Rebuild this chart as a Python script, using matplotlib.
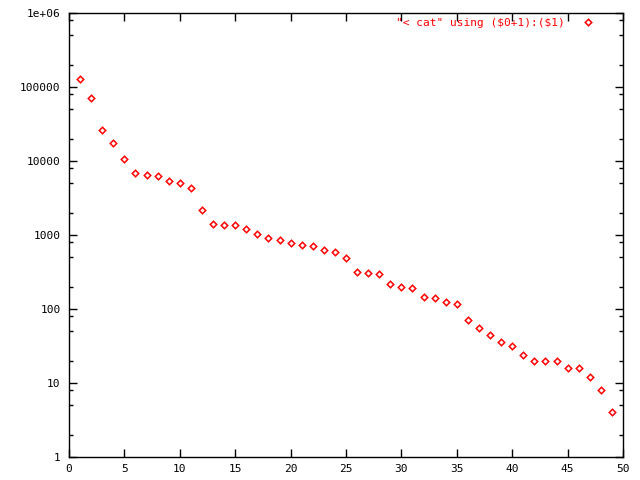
#!/usr/bin/env python3
"""Rank plot of counts, gnuplot style, log y axis"""
import matplotlib
matplotlib.use("Agg")
import matplotlib.pyplot as plt
from matplotlib.ticker import FixedLocator, FixedFormatter

# values (x = row number, y = count)
counts = [127000, 70400, 26000, 17300, 10500, 6820, 6410, 6210, 5320, 5000,
          4280, 2160, 1400, 1350, 1350, 1200, 1020, 900, 850, 772,
          726, 703, 621, 583, 484, 313, 303, 294, 216, 197,
          190, 144, 140, 123, 116, 70, 55, 44, 35.5, 31.3,
          23.7, 20, 20, 20, 16, 16, 12, 8, 4]
xs = list(range(1, len(counts) + 1))
series_label = '"< cat" using ($0+1):($1)'

y_major = [1, 10, 100, 1000, 10000, 100000, 1000000]
y_major_labels = ["1", "10", "100", "1000", "10000", "100000", "1e+06"]
x_major = list(range(0, 51, 5))

plt.rcParams['font.family'] = ['DejaVu Sans Mono']
plt.rcParams['text.parse_math'] = False

fig = plt.figure(figsize=(6.4, 4.8), dpi=100)
ax = fig.add_axes([69 / 640, 1 - 457 / 480, (623 - 69) / 640, (457 - 13) / 480])

ax.plot(xs, counts, linestyle='none', marker='D', markersize=3.3,
        markerfacecolor='none', markeredgecolor='red', markeredgewidth=1.1,
        label=series_label)

ax.set_yscale('log')
ax.set_xlim(0, 50)
ax.set_ylim(1, 1e6)

ax.yaxis.set_major_locator(FixedLocator(y_major))
ax.yaxis.set_major_formatter(FixedFormatter(y_major_labels))
minors = [m * 10 ** e for e in range(0, 6) for m in (2, 5, 8)]
ax.yaxis.set_minor_locator(FixedLocator(minors))
ax.xaxis.set_major_locator(FixedLocator(x_major))
ax.xaxis.set_minor_locator(FixedLocator([]))

ax.tick_params(which='both', direction='in', top=True, right=True,
               labelsize=8, width=1, colors='black')
ax.tick_params(which='major', length=6)
ax.tick_params(which='minor', length=3)
ax.tick_params(axis='y', pad=6)
ax.tick_params(axis='x', pad=5)
for s in ax.spines.values():
    s.set_linewidth(1)

leg = ax.legend(loc='upper right', bbox_to_anchor=(1 - 16 / 554, 1 + 3 / 444),
                frameon=False, markerfirst=False,
                fontsize=8, handlelength=2, handletextpad=1.1,
                borderaxespad=0.3)
for t in leg.get_texts():
    t.set_color('red')

plt.savefig("out.png", dpi=100)
plt.close()
